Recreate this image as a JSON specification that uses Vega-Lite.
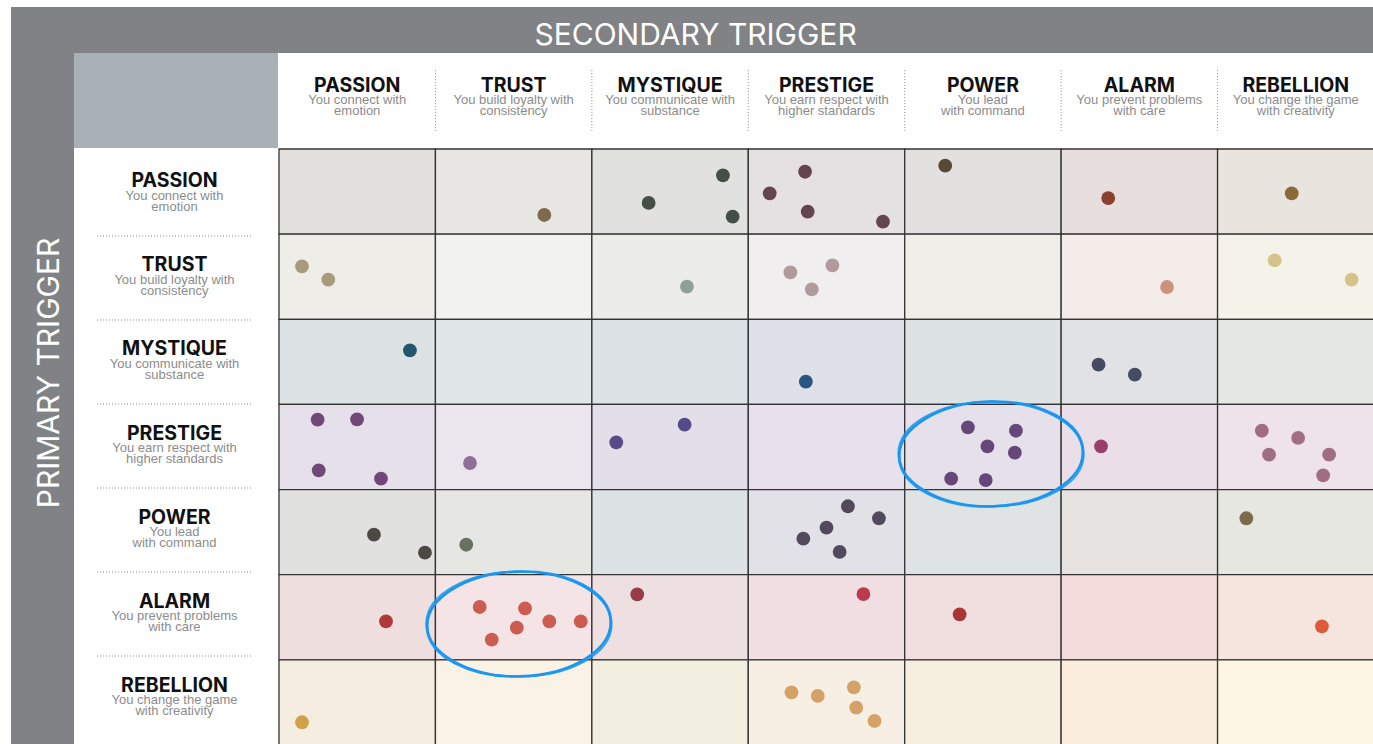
{
  "$schema": "https://vega.github.io/schema/vega-lite/v6.json",
  "padding": {"left": 11, "top": 7, "right": 0, "bottom": 0},
  "background": "#ffffff",
  "config": {"view": {"stroke": null}, "concat": {"spacing": 0}},
  "datasets": {
    "labels": [
      {"name": "PASSION", "sub": "You connect with|emotion"},
      {"name": "TRUST", "sub": "You build loyalty with|consistency"},
      {"name": "MYSTIQUE", "sub": "You communicate with|substance"},
      {"name": "PRESTIGE", "sub": "You earn respect with|higher standards"},
      {"name": "POWER", "sub": "You lead|with command"},
      {"name": "ALARM", "sub": "You prevent problems|with care"},
      {"name": "REBELLION", "sub": "You change the game|with creativity"}
    ],
    "cells": [
      {"p": "PASSION", "s": "PASSION", "cell": "PASSION|PASSION"},
      {"p": "PASSION", "s": "TRUST", "cell": "PASSION|TRUST"},
      {"p": "PASSION", "s": "MYSTIQUE", "cell": "PASSION|MYSTIQUE"},
      {"p": "PASSION", "s": "PRESTIGE", "cell": "PASSION|PRESTIGE"},
      {"p": "PASSION", "s": "POWER", "cell": "PASSION|POWER"},
      {"p": "PASSION", "s": "ALARM", "cell": "PASSION|ALARM"},
      {"p": "PASSION", "s": "REBELLION", "cell": "PASSION|REBELLION"},
      {"p": "TRUST", "s": "PASSION", "cell": "TRUST|PASSION"},
      {"p": "TRUST", "s": "TRUST", "cell": "TRUST|TRUST"},
      {"p": "TRUST", "s": "MYSTIQUE", "cell": "TRUST|MYSTIQUE"},
      {"p": "TRUST", "s": "PRESTIGE", "cell": "TRUST|PRESTIGE"},
      {"p": "TRUST", "s": "POWER", "cell": "TRUST|POWER"},
      {"p": "TRUST", "s": "ALARM", "cell": "TRUST|ALARM"},
      {"p": "TRUST", "s": "REBELLION", "cell": "TRUST|REBELLION"},
      {"p": "MYSTIQUE", "s": "PASSION", "cell": "MYSTIQUE|PASSION"},
      {"p": "MYSTIQUE", "s": "TRUST", "cell": "MYSTIQUE|TRUST"},
      {"p": "MYSTIQUE", "s": "MYSTIQUE", "cell": "MYSTIQUE|MYSTIQUE"},
      {"p": "MYSTIQUE", "s": "PRESTIGE", "cell": "MYSTIQUE|PRESTIGE"},
      {"p": "MYSTIQUE", "s": "POWER", "cell": "MYSTIQUE|POWER"},
      {"p": "MYSTIQUE", "s": "ALARM", "cell": "MYSTIQUE|ALARM"},
      {"p": "MYSTIQUE", "s": "REBELLION", "cell": "MYSTIQUE|REBELLION"},
      {"p": "PRESTIGE", "s": "PASSION", "cell": "PRESTIGE|PASSION"},
      {"p": "PRESTIGE", "s": "TRUST", "cell": "PRESTIGE|TRUST"},
      {"p": "PRESTIGE", "s": "MYSTIQUE", "cell": "PRESTIGE|MYSTIQUE"},
      {"p": "PRESTIGE", "s": "PRESTIGE", "cell": "PRESTIGE|PRESTIGE"},
      {"p": "PRESTIGE", "s": "POWER", "cell": "PRESTIGE|POWER"},
      {"p": "PRESTIGE", "s": "ALARM", "cell": "PRESTIGE|ALARM"},
      {"p": "PRESTIGE", "s": "REBELLION", "cell": "PRESTIGE|REBELLION"},
      {"p": "POWER", "s": "PASSION", "cell": "POWER|PASSION"},
      {"p": "POWER", "s": "TRUST", "cell": "POWER|TRUST"},
      {"p": "POWER", "s": "MYSTIQUE", "cell": "POWER|MYSTIQUE"},
      {"p": "POWER", "s": "PRESTIGE", "cell": "POWER|PRESTIGE"},
      {"p": "POWER", "s": "POWER", "cell": "POWER|POWER"},
      {"p": "POWER", "s": "ALARM", "cell": "POWER|ALARM"},
      {"p": "POWER", "s": "REBELLION", "cell": "POWER|REBELLION"},
      {"p": "ALARM", "s": "PASSION", "cell": "ALARM|PASSION"},
      {"p": "ALARM", "s": "TRUST", "cell": "ALARM|TRUST"},
      {"p": "ALARM", "s": "MYSTIQUE", "cell": "ALARM|MYSTIQUE"},
      {"p": "ALARM", "s": "PRESTIGE", "cell": "ALARM|PRESTIGE"},
      {"p": "ALARM", "s": "POWER", "cell": "ALARM|POWER"},
      {"p": "ALARM", "s": "ALARM", "cell": "ALARM|ALARM"},
      {"p": "ALARM", "s": "REBELLION", "cell": "ALARM|REBELLION"},
      {"p": "REBELLION", "s": "PASSION", "cell": "REBELLION|PASSION"},
      {"p": "REBELLION", "s": "TRUST", "cell": "REBELLION|TRUST"},
      {"p": "REBELLION", "s": "MYSTIQUE", "cell": "REBELLION|MYSTIQUE"},
      {"p": "REBELLION", "s": "PRESTIGE", "cell": "REBELLION|PRESTIGE"},
      {"p": "REBELLION", "s": "POWER", "cell": "REBELLION|POWER"},
      {"p": "REBELLION", "s": "ALARM", "cell": "REBELLION|ALARM"},
      {"p": "REBELLION", "s": "REBELLION", "cell": "REBELLION|REBELLION"}
    ],
    "dots": [
      {"p": "PASSION", "s": "TRUST", "cell": "PASSION|TRUST", "fx": 0.696, "fy": 0.775},
      {"p": "PASSION", "s": "MYSTIQUE", "cell": "PASSION|MYSTIQUE", "fx": 0.838, "fy": 0.309},
      {"p": "PASSION", "s": "MYSTIQUE", "cell": "PASSION|MYSTIQUE", "fx": 0.363, "fy": 0.634},
      {"p": "PASSION", "s": "MYSTIQUE", "cell": "PASSION|MYSTIQUE", "fx": 0.9, "fy": 0.795},
      {"p": "PASSION", "s": "PRESTIGE", "cell": "PASSION|PRESTIGE", "fx": 0.363, "fy": 0.267},
      {"p": "PASSION", "s": "PRESTIGE", "cell": "PASSION|PRESTIGE", "fx": 0.137, "fy": 0.52},
      {"p": "PASSION", "s": "PRESTIGE", "cell": "PASSION|PRESTIGE", "fx": 0.38, "fy": 0.736},
      {"p": "PASSION", "s": "PRESTIGE", "cell": "PASSION|PRESTIGE", "fx": 0.861, "fy": 0.854},
      {"p": "PASSION", "s": "POWER", "cell": "PASSION|POWER", "fx": 0.259, "fy": 0.196},
      {"p": "PASSION", "s": "ALARM", "cell": "PASSION|ALARM", "fx": 0.301, "fy": 0.576},
      {"p": "PASSION", "s": "REBELLION", "cell": "PASSION|REBELLION", "fx": 0.474, "fy": 0.52},
      {"p": "TRUST", "s": "PASSION", "cell": "TRUST|PASSION", "fx": 0.147, "fy": 0.378},
      {"p": "TRUST", "s": "PASSION", "cell": "TRUST|PASSION", "fx": 0.315, "fy": 0.535},
      {"p": "TRUST", "s": "MYSTIQUE", "cell": "TRUST|MYSTIQUE", "fx": 0.608, "fy": 0.617},
      {"p": "TRUST", "s": "PRESTIGE", "cell": "TRUST|PRESTIGE", "fx": 0.269, "fy": 0.448},
      {"p": "TRUST", "s": "PRESTIGE", "cell": "TRUST|PRESTIGE", "fx": 0.538, "fy": 0.366},
      {"p": "TRUST", "s": "PRESTIGE", "cell": "TRUST|PRESTIGE", "fx": 0.406, "fy": 0.648},
      {"p": "TRUST", "s": "ALARM", "cell": "TRUST|ALARM", "fx": 0.677, "fy": 0.621},
      {"p": "TRUST", "s": "REBELLION", "cell": "TRUST|REBELLION", "fx": 0.365, "fy": 0.307},
      {"p": "TRUST", "s": "REBELLION", "cell": "TRUST|REBELLION", "fx": 0.857, "fy": 0.535},
      {"p": "MYSTIQUE", "s": "PASSION", "cell": "MYSTIQUE|PASSION", "fx": 0.837, "fy": 0.364},
      {"p": "MYSTIQUE", "s": "PRESTIGE", "cell": "MYSTIQUE|PRESTIGE", "fx": 0.368, "fy": 0.733},
      {"p": "MYSTIQUE", "s": "ALARM", "cell": "MYSTIQUE|ALARM", "fx": 0.239, "fy": 0.533},
      {"p": "MYSTIQUE", "s": "ALARM", "cell": "MYSTIQUE|ALARM", "fx": 0.471, "fy": 0.651},
      {"p": "PRESTIGE", "s": "PASSION", "cell": "PRESTIGE|PASSION", "fx": 0.247, "fy": 0.179},
      {"p": "PRESTIGE", "s": "PASSION", "cell": "PRESTIGE|PASSION", "fx": 0.499, "fy": 0.175},
      {"p": "PRESTIGE", "s": "PASSION", "cell": "PRESTIGE|PASSION", "fx": 0.254, "fy": 0.774},
      {"p": "PRESTIGE", "s": "PASSION", "cell": "PRESTIGE|PASSION", "fx": 0.652, "fy": 0.872},
      {"p": "PRESTIGE", "s": "TRUST", "cell": "PRESTIGE|TRUST", "fx": 0.221, "fy": 0.688},
      {"p": "PRESTIGE", "s": "MYSTIQUE", "cell": "PRESTIGE|MYSTIQUE", "fx": 0.156, "fy": 0.445},
      {"p": "PRESTIGE", "s": "MYSTIQUE", "cell": "PRESTIGE|MYSTIQUE", "fx": 0.593, "fy": 0.238},
      {"p": "PRESTIGE", "s": "POWER", "cell": "PRESTIGE|POWER", "fx": 0.404, "fy": 0.269},
      {"p": "PRESTIGE", "s": "POWER", "cell": "PRESTIGE|POWER", "fx": 0.711, "fy": 0.309},
      {"p": "PRESTIGE", "s": "POWER", "cell": "PRESTIGE|POWER", "fx": 0.529, "fy": 0.492},
      {"p": "PRESTIGE", "s": "POWER", "cell": "PRESTIGE|POWER", "fx": 0.704, "fy": 0.567},
      {"p": "PRESTIGE", "s": "POWER", "cell": "PRESTIGE|POWER", "fx": 0.297, "fy": 0.872},
      {"p": "PRESTIGE", "s": "POWER", "cell": "PRESTIGE|POWER", "fx": 0.518, "fy": 0.888},
      {"p": "PRESTIGE", "s": "ALARM", "cell": "PRESTIGE|ALARM", "fx": 0.255, "fy": 0.492},
      {"p": "PRESTIGE", "s": "REBELLION", "cell": "PRESTIGE|REBELLION", "fx": 0.283, "fy": 0.309},
      {"p": "PRESTIGE", "s": "REBELLION", "cell": "PRESTIGE|REBELLION", "fx": 0.515, "fy": 0.394},
      {"p": "PRESTIGE", "s": "REBELLION", "cell": "PRESTIGE|REBELLION", "fx": 0.329, "fy": 0.59},
      {"p": "PRESTIGE", "s": "REBELLION", "cell": "PRESTIGE|REBELLION", "fx": 0.713, "fy": 0.59},
      {"p": "PRESTIGE", "s": "REBELLION", "cell": "PRESTIGE|REBELLION", "fx": 0.675, "fy": 0.832},
      {"p": "POWER", "s": "PASSION", "cell": "POWER|PASSION", "fx": 0.607, "fy": 0.53},
      {"p": "POWER", "s": "PASSION", "cell": "POWER|PASSION", "fx": 0.933, "fy": 0.741},
      {"p": "POWER", "s": "TRUST", "cell": "POWER|TRUST", "fx": 0.197, "fy": 0.648},
      {"p": "POWER", "s": "PRESTIGE", "cell": "POWER|PRESTIGE", "fx": 0.637, "fy": 0.196},
      {"p": "POWER", "s": "PRESTIGE", "cell": "POWER|PRESTIGE", "fx": 0.835, "fy": 0.337},
      {"p": "POWER", "s": "PRESTIGE", "cell": "POWER|PRESTIGE", "fx": 0.5, "fy": 0.448},
      {"p": "POWER", "s": "PRESTIGE", "cell": "POWER|PRESTIGE", "fx": 0.352, "fy": 0.577},
      {"p": "POWER", "s": "PRESTIGE", "cell": "POWER|PRESTIGE", "fx": 0.584, "fy": 0.733},
      {"p": "POWER", "s": "REBELLION", "cell": "POWER|REBELLION", "fx": 0.184, "fy": 0.337},
      {"p": "ALARM", "s": "PASSION", "cell": "ALARM|PASSION", "fx": 0.684, "fy": 0.547},
      {"p": "ALARM", "s": "TRUST", "cell": "ALARM|TRUST", "fx": 0.283, "fy": 0.379},
      {"p": "ALARM", "s": "TRUST", "cell": "ALARM|TRUST", "fx": 0.573, "fy": 0.395},
      {"p": "ALARM", "s": "TRUST", "cell": "ALARM|TRUST", "fx": 0.728, "fy": 0.547},
      {"p": "ALARM", "s": "TRUST", "cell": "ALARM|TRUST", "fx": 0.929, "fy": 0.547},
      {"p": "ALARM", "s": "TRUST", "cell": "ALARM|TRUST", "fx": 0.52, "fy": 0.622},
      {"p": "ALARM", "s": "TRUST", "cell": "ALARM|TRUST", "fx": 0.36, "fy": 0.763},
      {"p": "ALARM", "s": "MYSTIQUE", "cell": "ALARM|MYSTIQUE", "fx": 0.29, "fy": 0.23},
      {"p": "ALARM", "s": "PRESTIGE", "cell": "ALARM|PRESTIGE", "fx": 0.736, "fy": 0.227},
      {"p": "ALARM", "s": "POWER", "cell": "ALARM|POWER", "fx": 0.351, "fy": 0.465},
      {"p": "ALARM", "s": "REBELLION", "cell": "ALARM|REBELLION", "fx": 0.667, "fy": 0.606},
      {"p": "REBELLION", "s": "PASSION", "cell": "REBELLION|PASSION", "fx": 0.147, "fy": 0.733},
      {"p": "REBELLION", "s": "PRESTIGE", "cell": "REBELLION|PRESTIGE", "fx": 0.276, "fy": 0.381},
      {"p": "REBELLION", "s": "PRESTIGE", "cell": "REBELLION|PRESTIGE", "fx": 0.444, "fy": 0.424},
      {"p": "REBELLION", "s": "PRESTIGE", "cell": "REBELLION|PRESTIGE", "fx": 0.675, "fy": 0.322},
      {"p": "REBELLION", "s": "PRESTIGE", "cell": "REBELLION|PRESTIGE", "fx": 0.69, "fy": 0.562},
      {"p": "REBELLION", "s": "PRESTIGE", "cell": "REBELLION|PRESTIGE", "fx": 0.807, "fy": 0.718}
    ],
    "circled": [
      {"p": "ALARM", "s": "TRUST", "fx": 0.534, "fy": 0.579},
      {"p": "PRESTIGE", "s": "POWER", "fx": 0.552, "fy": 0.582}
    ]
  },
  "hconcat": [
    {
      "width": 63,
      "height": 737,
      "view": {"fill": "#818285", "stroke": null},
      "data": {"values": [{"t": "PRIMARY TRIGGER"}]},
      "mark": {"type": "text", "angle": 270, "font": "Inter", "fontSize": 30, "color": "#ffffff", "align": "center", "baseline": "alphabetic"},
      "encoding": {
        "x": {"datum": 0.767, "type": "quantitative", "scale": {"domain": [0, 1]}, "axis": null},
        "y": {"datum": 0.4966, "type": "quantitative", "scale": {"domain": [0, 1], "reverse": true}, "axis": null},
        "text": {"field": "t"}
      }
    },
    {
      "vconcat": [
        {
          "width": 1299,
          "height": 46,
          "view": {"fill": "#818285", "stroke": null},
          "data": {"values": [{"t": "SECONDARY TRIGGER"}]},
          "mark": {"type": "text", "font": "Inter", "fontSize": 30, "color": "#ffffff", "align": "center", "baseline": "alphabetic"},
          "encoding": {
            "x": {"datum": 0.4785, "type": "quantitative", "scale": {"domain": [0, 1]}, "axis": null},
            "y": {"datum": 0.826, "type": "quantitative", "scale": {"domain": [0, 1], "reverse": true}, "axis": null},
            "text": {"field": "t"}
          }
        },
        {
          "hconcat": [
            {
              "vconcat": [
                {
                  "width": 204,
                  "height": 95,
                  "view": {"fill": "#a9b0b6", "stroke": null},
                  "data": {"values": [{"t": ""}]},
                  "mark": {"type": "text"},
                  "encoding": {"text": {"field": "t"}}
                },
                {
                  "width": 204,
                  "height": 596,
                  "data": {"name": "labels"},
                  "layer": [
                    {
                      "mark": {"type": "text", "font": "Inter", "fontWeight": "bold", "fontSize": 19.5, "color": "#111111", "align": "center", "baseline": "alphabetic", "dy": -6.5},
                      "encoding": {
                        "x": {"datum": 0.4926, "type": "quantitative", "scale": {"domain": [0, 1]}, "axis": null},
                        "y": {"field": "name", "type": "nominal", "scale": {"type": "band", "domain": ["PASSION", "TRUST", "MYSTIQUE", "PRESTIGE", "POWER", "ALARM", "REBELLION"], "paddingInner": 0, "paddingOuter": 0.0476}, "axis": null},
                        "text": {"field": "name"}
                      }
                    },
                    {
                      "mark": {"type": "text", "font": "Liberation Sans", "fontSize": 13, "lineHeight": 11, "lineBreak": "|", "color": "#8c8c8c", "align": "center", "baseline": "alphabetic", "dy": 6},
                      "encoding": {
                        "x": {"datum": 0.4926, "type": "quantitative", "scale": {"domain": [0, 1]}, "axis": null},
                        "y": {"field": "name", "type": "nominal", "axis": null},
                        "text": {"field": "sub"}
                      }
                    },
                    {
                      "transform": [{"filter": "datum.name !== 'PASSION'"}],
                      "mark": {"type": "rule", "color": "#8a8a8a", "strokeWidth": 1, "strokeDash": [1, 2]},
                      "encoding": {
                        "x": {"datum": 0.113, "type": "quantitative", "scale": {"domain": [0, 1]}, "axis": null},
                        "x2": {"datum": 0.868},
                        "y": {"field": "name", "type": "nominal", "bandPosition": 0, "axis": null}
                      }
                    }
                  ]
                }
              ]
            },
            {
              "vconcat": [
                {
                  "width": 1095,
                  "height": 95,
                  "data": {"name": "labels"},
                  "layer": [
                    {
                      "mark": {"type": "text", "font": "Inter", "fontWeight": "bold", "fontSize": 19.5, "color": "#111111", "align": "center", "baseline": "alphabetic"},
                      "encoding": {
                        "x": {"field": "name", "type": "nominal", "scale": {"type": "band", "domain": ["PASSION", "TRUST", "MYSTIQUE", "PRESTIGE", "POWER", "ALARM", "REBELLION"], "paddingInner": 0, "paddingOuter": 0}, "axis": null},
                        "y": {"datum": 0.407, "type": "quantitative", "scale": {"domain": [0, 1], "reverse": true}, "axis": null},
                        "text": {"field": "name"}
                      }
                    },
                    {
                      "mark": {"type": "text", "font": "Liberation Sans", "fontSize": 13, "lineHeight": 11, "lineBreak": "|", "color": "#8c8c8c", "align": "center", "baseline": "alphabetic"},
                      "encoding": {
                        "x": {"field": "name", "type": "nominal", "axis": null},
                        "y": {"datum": 0.537, "type": "quantitative", "axis": null},
                        "text": {"field": "sub"}
                      }
                    },
                    {
                      "transform": [{"filter": "datum.name !== 'PASSION'"}],
                      "mark": {"type": "rule", "color": "#8a8a8a", "strokeWidth": 1, "strokeDash": [1, 2]},
                      "encoding": {
                        "x": {"field": "name", "type": "nominal", "bandPosition": 0, "axis": null},
                        "y": {"datum": 0.18, "type": "quantitative", "axis": null},
                        "y2": {"datum": 0.82}
                      }
                    }
                  ]
                },
                {
                  "width": 1095,
                  "height": 596,
                  "resolve": {"scale": {"x": "independent", "y": "independent"}},
                  "layer": [
                    {
                      "data": {"name": "cells"},
                      "mark": {"type": "rect", "stroke": "#333333", "strokeWidth": 1.3},
                      "encoding": {
                        "x": {"field": "s", "type": "nominal", "bandPosition": 0, "scale": {"type": "band", "domain": ["PASSION", "TRUST", "MYSTIQUE", "PRESTIGE", "POWER", "ALARM", "REBELLION"], "paddingInner": 0, "paddingOuter": 0}, "axis": null},
                        "x2": {"field": "s", "bandPosition": 1},
                        "y": {"field": "p", "type": "nominal", "bandPosition": 0, "scale": {"type": "band", "domain": ["PASSION", "TRUST", "MYSTIQUE", "PRESTIGE", "POWER", "ALARM", "REBELLION"], "paddingInner": 0, "paddingOuter": 0}, "axis": null},
                        "y2": {"field": "p", "bandPosition": 1},
                        "fill": {
                          "field": "cell", "type": "nominal", "legend": null,
                          "scale": {
                            "domain": ["PASSION|PASSION", "PASSION|TRUST", "PASSION|MYSTIQUE", "PASSION|PRESTIGE", "PASSION|POWER", "PASSION|ALARM", "PASSION|REBELLION",
                                       "TRUST|PASSION", "TRUST|TRUST", "TRUST|MYSTIQUE", "TRUST|PRESTIGE", "TRUST|POWER", "TRUST|ALARM", "TRUST|REBELLION",
                                       "MYSTIQUE|PASSION", "MYSTIQUE|TRUST", "MYSTIQUE|MYSTIQUE", "MYSTIQUE|PRESTIGE", "MYSTIQUE|POWER", "MYSTIQUE|ALARM", "MYSTIQUE|REBELLION",
                                       "PRESTIGE|PASSION", "PRESTIGE|TRUST", "PRESTIGE|MYSTIQUE", "PRESTIGE|PRESTIGE", "PRESTIGE|POWER", "PRESTIGE|ALARM", "PRESTIGE|REBELLION",
                                       "POWER|PASSION", "POWER|TRUST", "POWER|MYSTIQUE", "POWER|PRESTIGE", "POWER|POWER", "POWER|ALARM", "POWER|REBELLION",
                                       "ALARM|PASSION", "ALARM|TRUST", "ALARM|MYSTIQUE", "ALARM|PRESTIGE", "ALARM|POWER", "ALARM|ALARM", "ALARM|REBELLION",
                                       "REBELLION|PASSION", "REBELLION|TRUST", "REBELLION|MYSTIQUE", "REBELLION|PRESTIGE", "REBELLION|POWER", "REBELLION|ALARM", "REBELLION|REBELLION"],
                            "range": ["#e4e0dd", "#e7e6e2", "#e1e1e0", "#e5e0e1", "#e2e1df", "#e8dedd", "#e9e5de",
                                      "#eeede8", "#f2f3ee", "#ecede9", "#f0eeee", "#efeee9", "#f4ece9", "#f5f3e9",
                                      "#dde2e5", "#e1e6e9", "#dce2e5", "#dee1e8", "#dde2e5", "#e1e2e5", "#e5e7e3",
                                      "#e5e0e9", "#ebe5ed", "#e2dfe9", "#e8e0ec", "#e6e0ea", "#eadfe8", "#eee3ea",
                                      "#e1e1df", "#e6e6e3", "#dde2e5", "#e3e1e8", "#dfe3e3", "#e6e3e0", "#e7e7e2",
                                      "#efdede", "#f5e4e5", "#eedfe1", "#f2dfe4", "#f1dfe0", "#f4dcdc", "#f6e4df",
                                      "#f5eee0", "#faf3e5", "#f2efe1", "#f7efe3", "#f6efe0", "#fbeedf", "#fdf6e2"]
                          }
                        }
                      }
                    },
                    {
                      "data": {"name": "dots"},
                      "mark": {"type": "point", "shape": "circle", "filled": true, "size": 190, "opacity": 1},
                      "encoding": {
                        "x": {"field": "s", "type": "nominal", "scale": {"type": "band", "domain": ["PASSION", "TRUST", "MYSTIQUE", "PRESTIGE", "POWER", "ALARM", "REBELLION"], "paddingInner": 0, "paddingOuter": 0}, "axis": null},
                        "y": {"field": "p", "type": "nominal", "scale": {"type": "band", "domain": ["PASSION", "TRUST", "MYSTIQUE", "PRESTIGE", "POWER", "ALARM", "REBELLION"], "paddingInner": 0, "paddingOuter": 0}, "axis": null},
                        "xOffset": {"field": "fx", "type": "quantitative", "scale": {"domain": [0, 1]}},
                        "yOffset": {"field": "fy", "type": "quantitative", "scale": {"domain": [0, 1]}},
                        "color": {
                          "field": "cell", "type": "nominal", "legend": null,
                          "scale": {
                            "domain": ["PASSION|TRUST", "PASSION|MYSTIQUE", "PASSION|PRESTIGE", "PASSION|POWER", "PASSION|ALARM", "PASSION|REBELLION",
                                       "TRUST|PASSION", "TRUST|MYSTIQUE", "TRUST|PRESTIGE", "TRUST|ALARM", "TRUST|REBELLION",
                                       "MYSTIQUE|PASSION", "MYSTIQUE|PRESTIGE", "MYSTIQUE|ALARM",
                                       "PRESTIGE|PASSION", "PRESTIGE|TRUST", "PRESTIGE|MYSTIQUE", "PRESTIGE|POWER", "PRESTIGE|ALARM", "PRESTIGE|REBELLION",
                                       "POWER|PASSION", "POWER|TRUST", "POWER|PRESTIGE", "POWER|REBELLION",
                                       "ALARM|PASSION", "ALARM|TRUST", "ALARM|MYSTIQUE", "ALARM|PRESTIGE", "ALARM|POWER", "ALARM|REBELLION",
                                       "REBELLION|PASSION", "REBELLION|PRESTIGE"],
                            "range": ["#7f6a4d", "#454f46", "#64454f", "#574a34", "#8a3f30", "#8a6a36",
                                      "#a89a7c", "#8fa197", "#b09a9b", "#cc9280", "#d6c389",
                                      "#24556a", "#2a5580", "#454c62",
                                      "#704777", "#8f6e98", "#554a8a", "#65477a", "#9a3f6c", "#a06e80",
                                      "#4b4a42", "#6a7062", "#524a5c", "#7a6c48",
                                      "#b03838", "#cc5c52", "#963c48", "#bb3a50", "#a83632", "#dd5a3a",
                                      "#cfa14a", "#d4a266"]
                          }
                        }
                      }
                    },
                    {
                      "data": {"name": "circled"},
                      "resolve": {"scale": {"x": "shared", "y": "shared"}},
                      "encoding": {
                        "x": {"field": "s", "type": "nominal", "scale": {"type": "band", "domain": ["PASSION", "TRUST", "MYSTIQUE", "PRESTIGE", "POWER", "ALARM", "REBELLION"], "paddingInner": 0, "paddingOuter": 0}, "axis": null},
                        "y": {"field": "p", "type": "nominal", "scale": {"type": "band", "domain": ["PASSION", "TRUST", "MYSTIQUE", "PRESTIGE", "POWER", "ALARM", "REBELLION"], "paddingInner": 0, "paddingOuter": 0}, "axis": null},
                        "xOffset": {"field": "fx", "type": "quantitative", "scale": {"domain": [0, 1]}},
                        "yOffset": {"field": "fy", "type": "quantitative", "scale": {"domain": [0, 1]}}
                      },
                      "layer": [
                        {"mark": {"type": "point", "shape": "M -1 0 A 1 0.57 0 1 1 1 0 A 1 0.57 0 1 1 -1 0 Z", "filled": false, "size": 33856, "stroke": "#1a96ef", "strokeWidth": 2.6, "opacity": 0.95, "angle": -2}},
                        {"mark": {"type": "point", "shape": "M -1 0 A 1 0.565 0 1 1 1 0 A 1 0.565 0 1 1 -1 0 Z", "filled": false, "size": 34400, "stroke": "#1a96ef", "strokeWidth": 1.8, "opacity": 0.85, "angle": 0.5, "dy": 1}},
                        {"mark": {"type": "point", "shape": "M -1 0 A 1 0.575 0 1 1 1 0 A 1 0.575 0 1 1 -1 0 Z", "filled": false, "size": 33300, "stroke": "#1a96ef", "strokeWidth": 1.5, "opacity": 0.8, "angle": -1, "dx": 1}}
                      ]
                    }
                  ]
                }
              ]
            }
          ]
        }
      ]
    }
  ]
}
